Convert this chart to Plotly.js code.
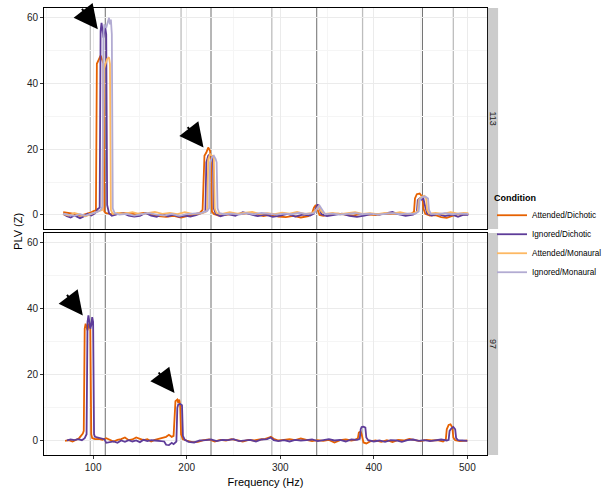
<!DOCTYPE html>
<html>
<head>
<meta charset="utf-8">
<script src="https://cdn.plot.ly/plotly-3.0.1.min.js"></script>
<style>
  body { margin: 0; background: #fff; }
  #chart { width: 604px; height: 497px; }
</style>
</head>
<body>
<div id="chart"></div>
<script>
// PLV spectra, two stimulus F0 panels (113 Hz on top, 97 Hz below)

const conditions = ['Attended/Dichotic', 'Ignored/Dichotic', 'Attended/Monaural', 'Ignored/Monaural'];
const colors = ['#E66101', '#5E3C99', '#FDB863', '#B2ABD2'];

// ---- panel 113 ----
const f113AttDich = [68,74,80,86,92,98,101,103,104,106,108,110,111,112,114,118,124,130,138,146,154,162,170,178,186,194,202,208,214,217,218,219,221,223,225,226,227,229,234,242,250,258,266,274,282,290,298,306,314,322,330,334,336,338,340,342,346,354,362,370,378,386,394,402,410,418,426,434,440,443,444,446,449,452,453,455,460,466,472,478,484,490,496,501];
const v113AttDich = [0.8,0.6,0.3,-0.3,0.2,0.8,1.2,1.5,46,47.5,48.5,47,46,1,0.5,0.3,0.2,0.6,0.3,0.2,0.6,0.1,-0.4,-0.6,-0.3,-0.8,-0.3,0.2,0.6,1.5,12,18,19,20.5,19.5,15,1,0.3,-0.2,0.1,0.3,0.2,0.5,0.3,-0.4,0.1,-0.5,-0.7,-0.3,-0.8,-0.4,0.5,2.2,3,1.5,0,-0.3,0.2,0.4,0.1,-0.2,0.3,0.1,-0.1,0.3,0.2,0.4,0.1,0.3,1,5,6.3,6.5,5.5,2,0.3,-0.2,-0.1,-0.7,-0.9,-0.3,0.2,0.1,0.2];

const f113IgnDich = [68,72,76,80,86,90,94,98,102,105,107,108,109,110,111,112,113,114,115,117,120,126,132,138,144,150,156,162,168,174,180,186,192,198,204,210,216,220,221,223,225,227,228,229,231,236,244,252,260,268,276,284,292,300,308,316,324,332,336,338,340,342,344,350,358,366,374,382,390,398,406,414,420,426,434,442,446,447,449,451,453,455,457,462,468,476,484,490,496,501];
const v113IgnDich = [0.3,-0.4,-0.8,-0.2,-1,-0.5,0.3,-0.2,0.5,1.8,2.2,56,58.5,55,54,56,57,55,3,0.5,-0.3,0.2,0.5,-0.2,-0.5,-0.3,0.6,-0.2,-0.6,0.3,-0.4,0.1,-0.6,-0.2,-0.5,-0.1,0.5,1,16,18,18.5,17.5,18,2,0.3,-0.4,0.2,-0.3,0.8,0.2,-0.4,0.1,-0.6,-0.2,0.3,-0.5,0.1,-0.2,0.4,2,3.2,2,0.2,-0.4,0.1,0.4,-0.3,-0.6,-0.2,0.3,0.1,0.6,0.9,0.2,-0.3,0.1,0.8,4.5,5,4.6,5,2.5,0.4,-0.2,0.3,-0.4,0.1,-0.6,0.1,0];

const f113AttMon = [68,74,80,86,92,98,104,108,110,111,113,115,117,118,119,121,126,134,142,150,158,166,174,182,190,198,206,214,220,222,223,225,227,229,230,232,238,246,254,262,270,278,286,294,302,310,318,326,334,338,341,344,348,356,364,372,380,388,396,404,412,420,428,436,444,447,448,451,454,456,457,459,466,474,482,490,496,501];
const v113AttMon = [0.2,-0.2,0.6,0.2,-0.4,0.3,0.8,1.2,1.5,44,46,47.5,48,46,1.5,0.3,0.6,0.4,0.8,0.2,0.5,0.9,0.3,0.6,0.2,0.8,0.3,0.4,0.8,1.5,17,18.5,18,17.5,2,0.5,0.3,0.8,0.4,0.6,0.9,0.3,0.5,0.2,0.7,0.4,0.9,0.3,0.5,1.5,2.6,1,0.3,0.6,0.2,0.5,0.8,0.3,0.5,0.2,0.6,0.4,0.8,0.3,0.6,1.2,4.5,5.5,5.8,5,1.5,0.4,0.6,0.3,0.8,0.4,0.6,0.5];

const f113IgnMon = [68,74,80,86,92,98,104,108,110,111,112,114,116,117,118,119,120,121,123,128,136,144,152,160,168,176,184,192,200,208,216,222,224,225,227,229,231,232,233,235,240,248,256,264,272,280,288,296,304,312,320,328,336,339,342,345,348,356,364,372,380,388,396,404,412,420,428,436,444,448,449,452,455,458,459,461,468,476,484,492,501];
const v113IgnMon = [0.4,0.1,-0.3,0.2,-0.2,0.4,0.8,1.5,2.5,55,58,57,59,60,58,59.5,55,2,0.5,0.1,0.3,-0.2,0.2,0.5,0.1,-0.2,0.3,-0.3,0.2,0.4,0.6,1.2,2,16,17.5,18,17,16,2,0.5,0.2,0.4,0.1,0.5,0.2,0.6,0.3,0.1,0.4,0.2,0.6,0.3,0.5,1.8,2.8,1.5,0.2,0.4,0.1,0.3,0.5,0.2,0.4,0.1,0.3,0.5,0.2,0.4,0.3,1,4.5,5.5,5.6,5,1.5,0.3,0.2,0.5,0.2,0.4,0.3];

// ---- panel 97 ----
const f97AttDich = [70,74,78,82,85,87,89,90,91,92,93,94,95,96,97,98,99,102,106,110,114,118,122,126,130,134,138,142,146,150,154,158,162,166,170,174,178,181,184,186,187,188,190,191,192,193,194,196,200,206,212,218,224,230,236,242,248,254,260,266,272,278,284,288,290,293,298,304,310,316,322,328,334,340,346,352,358,364,370,376,380,383,384,386,387,389,392,396,402,408,414,420,426,432,438,444,450,456,462,468,474,477,478,480,482,484,485,487,492,496,500];
const v97AttDich = [0,0.2,-0.2,0.3,0.8,1.5,2.2,3,34,35.5,34,33.5,35,35.5,34,2,0.8,0.5,0.6,0.3,0.8,0.4,-0.2,0.3,0.5,1,0.2,0.4,1,0.6,0.2,0.5,-0.2,0.3,0.6,0.9,1.2,1.8,1.2,1.5,10,12,12.5,11.5,12.5,11,2,0.5,0.1,-0.4,-0.3,0.2,0.4,-0.2,0.3,0.1,0.5,0.2,-0.2,0.3,0.1,0.4,0.6,1,1.2,0.6,0.1,0.3,0.5,0.2,0.7,0.3,-0.1,0.2,0,0.3,-0.5,0.2,0.4,0.1,0.3,0.8,2.5,2.8,2,-0.5,-0.8,-0.2,0.1,-0.3,0.2,-0.4,0.3,0.1,0.6,0.2,-0.1,0.3,0.1,0.2,-0.2,0.5,3.5,4.8,5,4,1,0.2,-0.1,0,0.1];

const f97IgnDich = [72,76,80,84,88,91,93,94,95,96,97,98,99,100,101,102,105,108,112,114,118,122,126,130,134,138,142,146,150,154,158,162,166,170,174,176,178,181,184,186,189,190,191,193,195,196,198,202,208,214,220,226,232,238,244,250,256,262,268,274,280,286,290,293,298,304,310,316,322,328,334,340,346,352,358,364,370,376,382,385,386,387,389,391,392,394,400,406,412,418,424,430,436,442,448,454,460,466,472,478,480,481,483,485,487,488,490,495,500];
const v97IgnDich = [0.1,0.4,0.2,0.5,0.2,0.8,2,36,38,36,34,35,37.5,36,2,1.2,1,0.8,0.5,-0.6,-0.4,-0.2,-0.6,0.1,-0.3,0.2,-0.2,0.1,-0.4,0.3,-0.1,0.2,0.1,0,-0.3,-0.2,-1.2,-1.3,-0.6,-1,-0.2,10,11,11.2,10.8,1.5,0.3,-0.3,-0.5,0.1,0.2,0.4,-0.1,0.3,0.2,0.5,-0.1,0.2,0.3,-0.2,0.4,0.5,1,0.2,-0.1,0.2,-0.2,0.3,0.1,0.2,0.4,-0.1,0.2,0.5,0.1,0.3,-0.2,0.4,0.3,0.6,3.5,4.2,4.3,4,1,0.2,-0.2,0.1,-0.3,0.2,0.1,-0.3,0.2,0.4,0,0.2,-0.1,0.2,0.4,0.1,0.3,3,3.8,4.2,3.5,0.8,0.2,0.1,0];

// vertical guides at the harmonics of each F0
const harm113 = [113, 226, 339, 452];
const harm97 = [97, 194, 291, 388, 485];

// arrows pointing at the first two harmonics: [freq, plv]
const arrows113 = [[105, 56.5], [218, 20.5]];
const arrows97 = [[89, 38], [187, 14.5]];

const topSeries = [
  [f113AttDich, v113AttDich],
  [f113IgnDich, v113IgnDich],
  [f113AttMon, v113AttMon],
  [f113IgnMon, v113IgnMon]
];
const bottomSeries = [
  [f97AttDich, v97AttDich],
  [f97IgnDich, v97IgnDich]
];

const traces = [];
topSeries.forEach((s, i) => {
  traces.push({
    x: s[0], y: s[1], xaxis: 'x2', yaxis: 'y2',
    type: 'scatter', mode: 'lines', name: conditions[i],
    legendgroup: conditions[i],
    line: {color: colors[i], width: 1.8}
  });
});
bottomSeries.forEach((s, i) => {
  traces.push({
    x: s[0], y: s[1], xaxis: 'x', yaxis: 'y',
    type: 'scatter', mode: 'lines', name: conditions[i],
    legendgroup: conditions[i], showlegend: false,
    line: {color: colors[i], width: 1.8}
  });
});

const shapes = [];
['y', 'y2'].forEach(ya => {
  const xa = ya === 'y' ? 'x' : 'x2';
  harm97.forEach(f => shapes.push({
    type: 'line', xref: xa, yref: ya + ' domain', x0: f, x1: f, y0: 0, y1: 1,
    line: {color: '#BDBDBD', width: 1.3}, layer: 'below'
  }));
  harm113.forEach(f => shapes.push({
    type: 'line', xref: xa, yref: ya + ' domain', x0: f, x1: f, y0: 0, y1: 1,
    line: {color: '#6E6E6E', width: 1}, layer: 'below'
  }));
});
// facet strips on the right
[[0.5056, 1], [0, 0.4966]].forEach(d => shapes.push({
  type: 'rect', xref: 'paper', yref: 'paper',
  x0: 1.002, x1: 1.025, y0: d[0], y1: d[1],
  fillcolor: '#CCCCCC', line: {width: 0}
}));

const annotations = [];
function addArrows(list, xa, ya) {
  list.forEach(a => annotations.push({
    x: a[0], y: a[1], xref: xa, yref: ya, text: '',
    showarrow: true, arrowhead: 2, arrowsize: 2.4, arrowwidth: 2,
    arrowcolor: '#000', ax: -17, ay: -22
  }));
}
addArrows(arrows113, 'x2', 'y2');
addArrows(arrows97, 'x', 'y');

annotations.push(
  {text: '113', xref: 'paper', yref: 'paper', x: 1.0135, y: 0.7528, showarrow: false,
   xanchor: 'center', yanchor: 'middle', textangle: 90, font: {size: 9, color: '#1a1a1a'}},
  {text: '97', xref: 'paper', yref: 'paper', x: 1.0135, y: 0.2483, showarrow: false,
   xanchor: 'center', yanchor: 'middle', textangle: 90, font: {size: 9, color: '#1a1a1a'}},
  {text: 'PLV (Z)', xref: 'paper', yref: 'paper', x: -0.078, y: 0.5, showarrow: false,
   textangle: -90, font: {size: 11, color: '#000'}}
);

const gridCol = '#EBEBEB';
const minorCol = '#F5F5F5';
const xBase = {
  range: [47.5, 521], showgrid: true, gridcolor: gridCol, gridwidth: 1,
  tickvals: [100, 200, 300, 400, 500], zeroline: false,
  minor: {tickvals: [50, 150, 250, 350, 450], showgrid: true, gridcolor: minorCol},
  showline: true, mirror: true, linecolor: '#000', linewidth: 1
};
const yBase = {
  range: [-4.3, 63], showgrid: true, gridcolor: gridCol, gridwidth: 1,
  tickvals: [0, 20, 40, 60], zeroline: false,
  minor: {tickvals: [10, 30, 50], showgrid: true, gridcolor: minorCol},
  ticks: 'outside', ticklen: 3, tickcolor: '#333',
  showline: true, mirror: true, linecolor: '#000', linewidth: 1,
  tickfont: {size: 10, color: '#222'}
};

const layout = {
  width: 604, height: 497,
  margin: {l: 44, r: 117, t: 8, b: 42, autoexpand: false},
  paper_bgcolor: '#fff', plot_bgcolor: '#fff',
  font: {family: 'Liberation Sans, Arial, sans-serif', color: '#000'},
  xaxis: Object.assign({}, xBase, {
    anchor: 'y', ticks: 'outside', ticklen: 3, tickcolor: '#333',
    tickfont: {size: 10, color: '#222'},
    title: {text: 'Frequency (Hz)', font: {size: 11}, standoff: 6}
  }),
  xaxis2: Object.assign({}, xBase, {anchor: 'y2', matches: 'x', showticklabels: false, ticks: ''}),
  yaxis: Object.assign({}, yBase, {domain: [0, 0.4966], anchor: 'x'}),
  yaxis2: Object.assign({}, yBase, {domain: [0.5056, 1], anchor: 'x2'}),
  shapes: shapes,
  annotations: annotations,
  showlegend: true,
  legend: {
    x: 1.0113, xanchor: 'left', y: 0.595, yanchor: 'top',
    title: {text: '<b>Condition</b>', font: {size: 9}},
    font: {size: 8.2}, tracegroupgap: 0, itemwidth: 30,
    bgcolor: 'rgba(0,0,0,0)'
  }
};

Plotly.newPlot('chart', traces, layout, {displayModeBar: false, staticPlot: true});
</script>
</body>
</html>
